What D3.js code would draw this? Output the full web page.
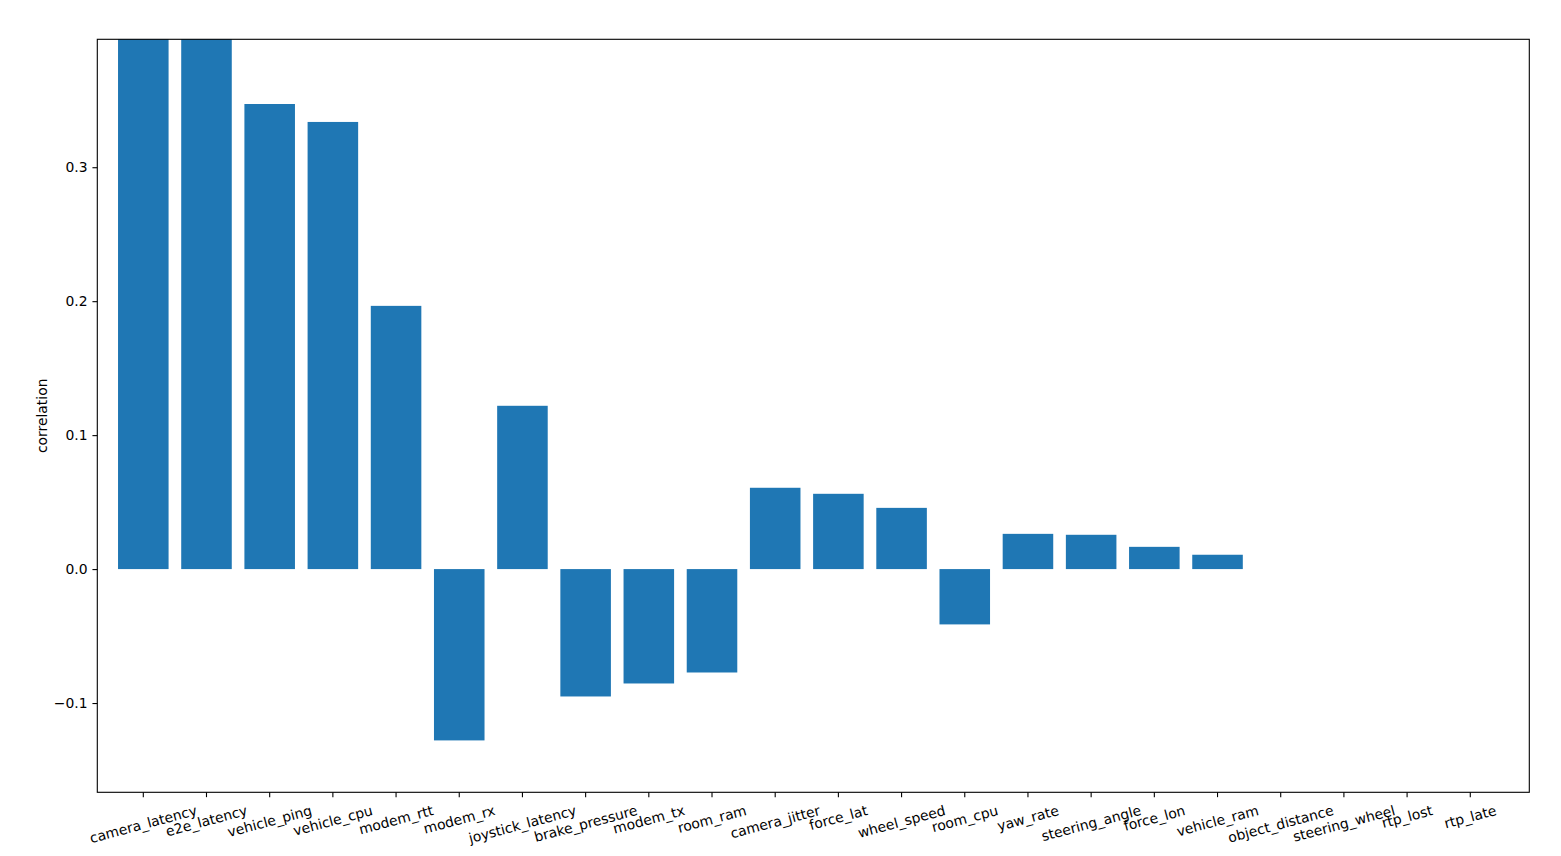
<!DOCTYPE html>
<html>
<head>
<meta charset="utf-8">
<script src="https://cdn.jsdelivr.net/npm/d3@7"></script>
<style>
  html, body { margin: 0; padding: 0; background: #fff; }
  svg { display: block; }
  text { font-family: "DejaVu Sans", sans-serif; fill: #000; }
</style>
</head>
<body>
<svg id="chart" width="1561" height="856"></svg>
<script>
const categories = ["camera_latency", "e2e_latency", "vehicle_ping", "vehicle_cpu", "modem_rtt",
  "modem_rx", "joystick_latency", "brake_pressure", "modem_tx", "room_ram", "camera_jitter",
  "force_lat", "wheel_speed", "room_cpu", "yaw_rate", "steering_angle", "force_lon",
  "vehicle_ram", "object_distance", "steering_wheel", "rtp_lost", "rtp_late"];
const correlation = [0.41, 0.40, 0.3472, 0.3338, 0.1965, -0.1279, 0.1219, -0.0951, -0.0854,
  -0.0772, 0.0607, 0.0562, 0.0457, -0.0413, 0.0263, 0.0256, 0.0166, 0.0107, 0, 0, 0, 0];
const yTicks = [-0.1, 0.0, 0.1, 0.2, 0.3];
const yDomain = [-0.16664, 0.3955];
const xDomain = [-0.728, 21.934];
const yLabel = "correlation";

const svg = d3.select("#chart");
const L = 97.3, R = 1529.3, T = 39.3, B = 792.3;
const x = d3.scaleLinear().domain(xDomain).range([L, R]);
const y = d3.scaleLinear().domain(yDomain).range([B, T]);
const barW = 0.8;
const fs = 13.9;

svg.append("defs").append("clipPath").attr("id", "clip")
  .append("rect").attr("x", L).attr("y", T).attr("width", R - L).attr("height", B - T);

svg.append("g").attr("clip-path", "url(#clip)")
  .selectAll("rect").data(correlation).join("rect")
  .attr("x", (d, i) => x(i - barW / 2))
  .attr("width", (d, i) => x(i + barW / 2) - x(i - barW / 2))
  .attr("y", d => y(Math.max(0, d)))
  .attr("height", d => Math.abs(y(d) - y(0)))
  .attr("fill", "#1f77b4");

// Y axis
const yAxis = d3.axisLeft(y).tickValues(yTicks).tickFormat(d3.format(".1f"))
  .tickSize(4.86).tickPadding(4.86);
const gy = svg.append("g").attr("transform", `translate(${L},0)`).call(yAxis);
gy.select(".domain").remove();
gy.selectAll("line").attr("stroke", "#000").attr("stroke-width", 1.1);
gy.selectAll("text").attr("font-size", fs).attr("font-family", "DejaVu Sans")
  .attr("dy", "0.32em");

// X axis ticks
const xIdx = d3.range(categories.length);
const gx = svg.append("g");
gx.selectAll("line").data(xIdx).join("line")
  .attr("x1", i => x(i)).attr("x2", i => x(i))
  .attr("y1", B).attr("y2", B + 4.86)
  .attr("stroke", "#000").attr("stroke-width", 1.1);

const ang = 15 * Math.PI / 180;
gx.selectAll("text").data(xIdx).join("text")
  .text(i => categories[i])
  .attr("font-size", fs)
  .attr("text-anchor", "middle")
  .attr("dominant-baseline", "central")
  .each(function(i) {
    const w = this.getComputedTextLength();
    const h = fs * 1.164;
    const H = w * Math.sin(ang) + h * Math.cos(ang);
    const cy = B + 4.86 + 4.86 + H / 2;
    d3.select(this).attr("transform", `translate(${x(i)},${cy}) rotate(-15)`);
  });

// Spines
svg.append("rect").attr("x", L).attr("y", T).attr("width", R - L).attr("height", B - T)
  .attr("fill", "none").attr("stroke", "#000").attr("stroke-width", 1.1);

// Y label
svg.append("text").text(yLabel)
  .attr("font-size", fs)
  .attr("text-anchor", "middle")
  .attr("dominant-baseline", "central")
  .attr("transform", `translate(41.5,${(T + B) / 2}) rotate(-90)`);
</script>
</body>
</html>
